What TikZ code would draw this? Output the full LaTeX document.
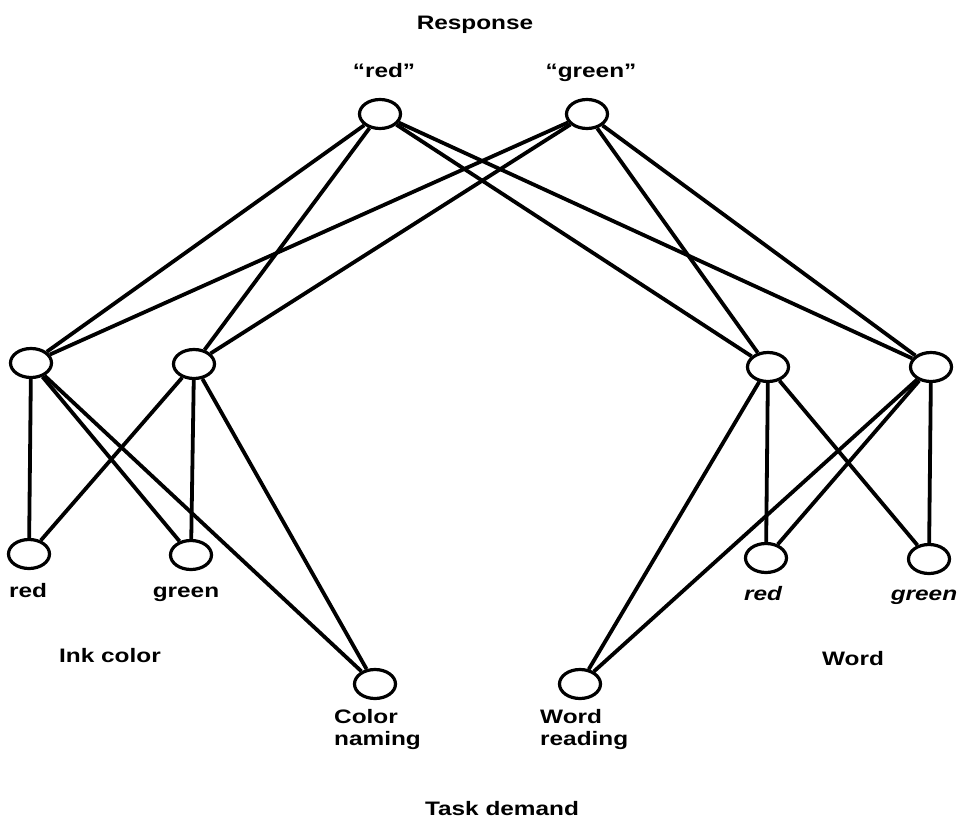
\documentclass[tikz,border=0pt]{standalone}
\usepackage{fontspec}
\setmainfont{Liberation Sans}[FakeStretch=1.25]
\usetikzlibrary{shapes.geometric}
\begin{document}
\begin{tikzpicture}[x=1pt,y=-1pt,
  unit/.style={ellipse,draw,line width=3.2pt,minimum width=41pt,minimum height=29pt,inner sep=0pt},
  conn/.style={line width=3.8pt},
  lbl/.style={font=\fontsize{19.5}{22}\selectfont\bfseries,inner sep=0pt,anchor=base},
  ilbl/.style={lbl,font=\fontsize{19.5}{22}\selectfont\bfseries\itshape},
  llbl/.style={lbl,anchor=base west}]
\useasboundingbox (0,0) rectangle (964,827);
% units
\node[unit] (rR) at (380,114) {};
\node[unit] (rG) at (587,114) {};
\node[unit] (hL1) at (31,363) {};
\node[unit] (hL2) at (194,364) {};
\node[unit] (hR1) at (768,367) {};
\node[unit] (hR2) at (931,367) {};
\node[unit] (iR) at (29,554) {};
\node[unit] (iG) at (191,555) {};
\node[unit] (wR) at (766,558) {};
\node[unit] (wG) at (929,559) {};
\node[unit] (tC) at (375,684) {};
\node[unit] (tW) at (580,684) {};
% connections
\foreach \a in {rR,rG}
  \foreach \b in {hL1,hL2,hR1,hR2}
    \draw[conn] (\a) -- (\b);
\foreach \a in {hL1,hL2}
  \foreach \b in {iR,iG,tC}
    \draw[conn] (\a) -- (\b);
\foreach \a in {hR1,hR2}
  \foreach \b in {wR,wG,tW}
    \draw[conn] (\a) -- (\b);
% labels
\node[lbl] (tResp) at (475,29) {Response};
\node[lbl] (lrR) at (384,77) {“red”};
\node[lbl] (lrG) at (591,77) {“green”};
\node[lbl] (liR) at (28,597) {red};
\node[lbl] (liG) at (186,597) {green};
\node[ilbl] (lwR) at (763,600) {red};
\node[ilbl] (lwG) at (924,600) {green};
\node[lbl] (tInk) at (110,662) {Ink color};
\node[lbl] (tWord) at (853,665) {Word};
\node[llbl] (lc1) at (334,723) {Color};
\node[llbl] (lc2) at (334,745) {naming};
\node[llbl] (lw1) at (540,723) {Word};
\node[llbl] (lw2) at (540,745) {reading};
\node[lbl] (tTask) at (502,815) {Task demand};
\end{tikzpicture}
\end{document}
